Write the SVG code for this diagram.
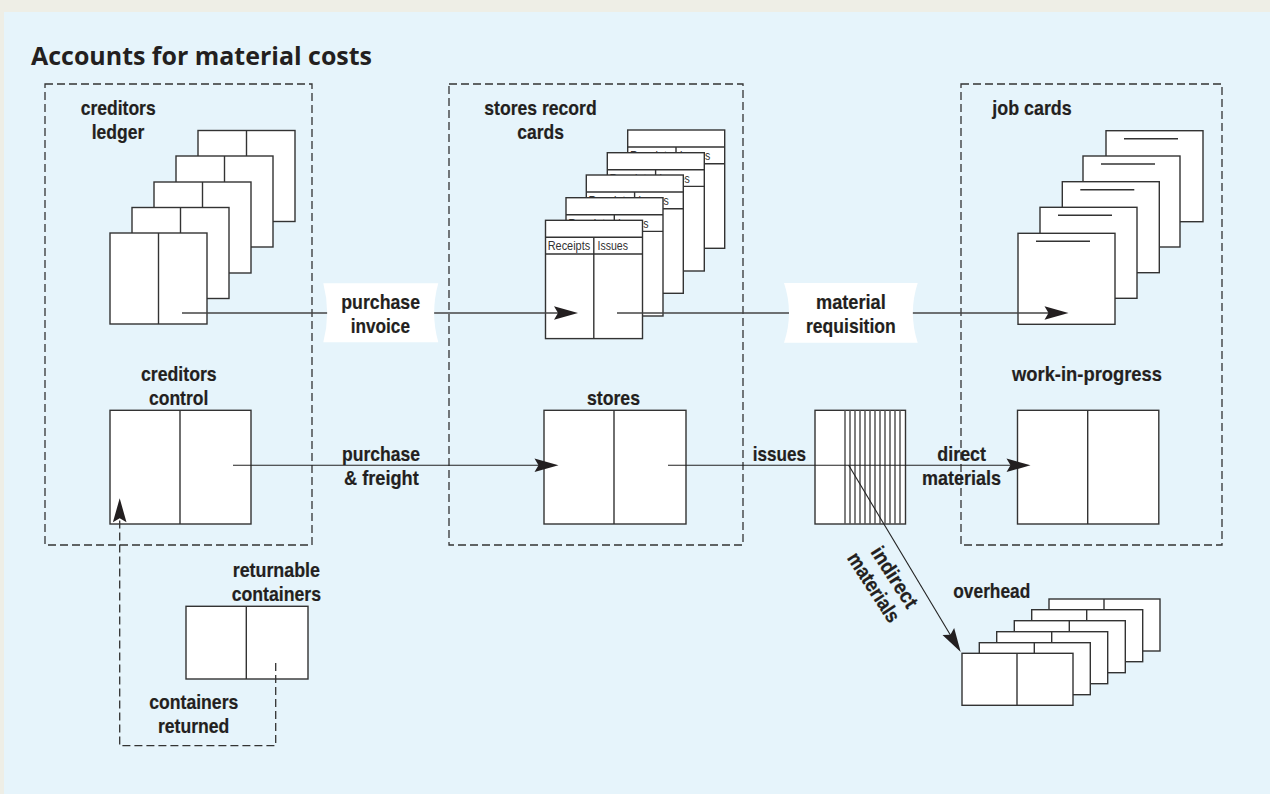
<svg xmlns="http://www.w3.org/2000/svg" width="1270" height="794" viewBox="0 0 1270 794">
<style>
.box{fill:#fff;stroke:#333;stroke-width:1.4}
.ln{fill:none;stroke:#333;stroke-width:1.4}
.stripe{fill:none;stroke:#555;stroke-width:1.5}
.wire{fill:none;stroke:#444;stroke-width:1.5}
.wire2{fill:none;stroke:#222;stroke-width:1.1}
.dash{fill:none;stroke:#333;stroke-width:1.3;stroke-dasharray:8 4}
.lab{font-family:"Liberation Sans",Arial,sans-serif;font-weight:700;font-size:20.5px;fill:#231f20;stroke:#231f20;stroke-width:.2}
.small{font-family:"Liberation Sans",Arial,sans-serif;font-size:13.5px;fill:#333}
.title{font-family:"Open Sans","Noto Sans",sans-serif;font-weight:700;font-size:24.5px;fill:#231f20}
.head{fill:#231f20}
</style>
<defs>
<g id="ledger"><rect class="box" width="97" height="91"/><path class="ln" d="M48.500 0V91"/></g>
<g id="job"><rect class="box" width="97" height="91"/><path class="ln" d="M18 8H72"/></g>
<g id="card"><rect class="box" width="97" height="118.300"/><path class="ln" d="M0 17H97M0 33.700H97M48.300 17V118.300"/><text class="small" x="2.200" y="29.900" textLength="42.500" lengthAdjust="spacingAndGlyphs">Receipts</text><text class="small" x="52" y="29.900" textLength="30.500" lengthAdjust="spacingAndGlyphs">Issues</text></g>
<g id="over"><rect class="box" width="111" height="52"/><path class="ln" d="M55 0V52"/></g>
<path id="arrow" class="head" d="M0 0L-24 -6.800L-20 0L-24 6.800Z"/>
</defs>
<rect width="1270" height="794" fill="#eeeee6"/>
<rect x="4" y="12" width="1266" height="782" fill="#e6f4fb"/>
<text id="title" class="title" x="31" y="65" textLength="341" lengthAdjust="spacingAndGlyphs">Accounts for material costs</text>
<g id="group-creditors"><rect class="dash" x="45" y="84" width="267" height="461"/></g>
<g id="group-stores"><rect class="dash" x="449" y="84" width="294" height="461"/></g>
<g id="group-job"><rect class="dash" x="961" y="84" width="261" height="461"/></g>
<g id="creditors-ledger">
<use href="#ledger" x="198" y="130.500"/><use href="#ledger" x="176" y="156"/><use href="#ledger" x="154" y="182"/><use href="#ledger" x="132" y="207.500"/><use href="#ledger" x="110" y="233"/>
<text class="lab" x="80.700" y="115" textLength="75" lengthAdjust="spacingAndGlyphs">creditors</text>
<text class="lab" x="91.700" y="139" textLength="52.600" lengthAdjust="spacingAndGlyphs">ledger</text>
</g>
<g id="stores-record-cards">
<use href="#card" x="627.700" y="130"/><use href="#card" x="607.300" y="152.700"/><use href="#card" x="586.300" y="175"/><use href="#card" x="566" y="197.700"/><use href="#card" x="545.500" y="220.300"/>
<text class="lab" x="484.300" y="115" textLength="112.400" lengthAdjust="spacingAndGlyphs">stores record</text>
<text class="lab" x="517.300" y="139" textLength="46.700" lengthAdjust="spacingAndGlyphs">cards</text>
</g>
<g id="job-cards">
<use href="#job" x="1106" y="130.700"/><use href="#job" x="1083" y="156"/><use href="#job" x="1062.300" y="181.700"/><use href="#job" x="1040" y="207.300"/><use href="#job" x="1018" y="233.300"/>
<text class="lab" x="992.300" y="115" textLength="79.400" lengthAdjust="spacingAndGlyphs">job cards</text>
</g>
<g id="creditors-control">
<rect class="box" x="110" y="410.300" width="141" height="113.700"/><path class="ln" d="M180 410.300V524"/>
<text class="lab" x="141" y="381" textLength="75.700" lengthAdjust="spacingAndGlyphs">creditors</text>
<text class="lab" x="149" y="405" textLength="59.300" lengthAdjust="spacingAndGlyphs">control</text>
</g>
<g id="stores">
<rect class="box" x="544" y="410.300" width="142" height="113.700"/><path class="ln" d="M614 410.300V524"/>
<text class="lab" x="587" y="405" textLength="53" lengthAdjust="spacingAndGlyphs">stores</text>
</g>
<g id="work-in-progress">
<rect class="box" x="1017.500" y="410.300" width="141.300" height="113.700"/><path class="ln" d="M1087.700 410.300V524"/>
<text class="lab" x="1012" y="381" textLength="150" lengthAdjust="spacingAndGlyphs">work-in-progress</text>
</g>
<g id="issues-account">
<rect class="box" x="815" y="410.300" width="90.500" height="113.700"/>
<path class="stripe" d="M845 410.300V524M850 410.300V524M855 410.300V524M860 410.300V524M865 410.300V524M870 410.300V524M875 410.300V524M880 410.300V524M885 410.300V524M890 410.300V524M895 410.300V524M900 410.300V524"/>
</g>
<g id="returnable-containers">
<rect class="box" x="186" y="606.300" width="122" height="72.700"/><path class="ln" d="M246.300 606.300V679"/>
<text class="lab" x="232.700" y="577.300" textLength="87.300" lengthAdjust="spacingAndGlyphs">returnable</text>
<text class="lab" x="231.700" y="601" textLength="89.300" lengthAdjust="spacingAndGlyphs">containers</text>
</g>
<g id="overhead">
<use href="#over" x="1049" y="599"/><use href="#over" x="1031.700" y="609.700"/><use href="#over" x="1014.300" y="620.700"/><use href="#over" x="996.700" y="631.700"/><use href="#over" x="979.300" y="642.700"/><use href="#over" x="962" y="653.300"/>
<text class="lab" x="953.300" y="597.700" textLength="77" lengthAdjust="spacingAndGlyphs">overhead</text>
</g>
<g id="connectors">
<path class="wire" d="M182 313H560"/><use href="#arrow" transform="translate(578 313)"/>
<path class="wire" d="M617 313H1052"/><use href="#arrow" transform="translate(1068.500 313)"/>
<path class="wire2" d="M233 465.300H542"/><use href="#arrow" transform="translate(558.500 465.300)"/>
<path class="wire2" d="M668 465.300H1014"/><use href="#arrow" transform="translate(1030.500 465.300)"/>
<path class="wire2" d="M848.700 465.300L951 636"/><use href="#arrow" transform="translate(960.700 652) rotate(59)"/>
<path class="dash" d="M275.700 663V745.700H119.700V518"/><use href="#arrow" transform="translate(119.700 498.300) rotate(-90)"/>
</g>
<g id="label-purchase-invoice">
<path fill="#fff" d="M323.300 283.300H438.300Q430 312.800 438.300 342.300H323.300Q331 312.800 323.300 283.300Z"/>
<text class="lab" x="341.300" y="308.500" textLength="78.700" lengthAdjust="spacingAndGlyphs">purchase</text>
<text class="lab" x="350.700" y="332.500" textLength="59.300" lengthAdjust="spacingAndGlyphs">invoice</text>
</g>
<g id="label-material-requisition">
<path fill="#fff" d="M784 283H917.700Q908 312.800 917.700 342.700H784Q794 312.800 784 283Z"/>
<text class="lab" x="816" y="308.500" textLength="69.700" lengthAdjust="spacingAndGlyphs">material</text>
<text class="lab" x="806" y="332.500" textLength="89.700" lengthAdjust="spacingAndGlyphs">requisition</text>
</g>
<g id="connector-labels">
<text class="lab" x="342" y="461" textLength="78" lengthAdjust="spacingAndGlyphs">purchase</text>
<text class="lab" x="344" y="485" textLength="74.700" lengthAdjust="spacingAndGlyphs">&amp; freight</text>
<text class="lab" x="752.700" y="461" textLength="53.300" lengthAdjust="spacingAndGlyphs">issues</text>
<text class="lab" x="937.300" y="461" textLength="48.700" lengthAdjust="spacingAndGlyphs">direct</text>
<text class="lab" x="922" y="485" textLength="79" lengthAdjust="spacingAndGlyphs">materials</text>
<text class="lab" x="149.300" y="709" textLength="89" lengthAdjust="spacingAndGlyphs">containers</text>
<text class="lab" x="158" y="733" textLength="71.300" lengthAdjust="spacingAndGlyphs">returned</text>
<text class="lab" transform="translate(870 552) rotate(57)" textLength="69" lengthAdjust="spacingAndGlyphs">indirect</text>
<text class="lab" transform="translate(846.500 558) rotate(57)" textLength="79" lengthAdjust="spacingAndGlyphs">materials</text>
</g>
</svg>
